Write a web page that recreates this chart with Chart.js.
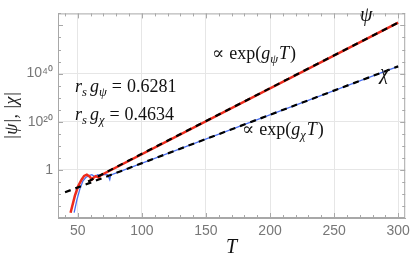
<!DOCTYPE html>
<html>
<head>
<meta charset="utf-8">
<script src="https://cdn.jsdelivr.net/npm/chart.js@4.4.0/dist/chart.umd.min.js"></script>
<style>
  body { margin: 0; background: #fff; }
  #wrap { width: 415px; height: 258px; }
</style>
</head>
<body>
<div id="wrap"><canvas id="chart" width="415" height="258"></canvas></div>
<script>
// values; magnitudes kept as powers of ten
const psiT = [44.3, 47.7, 50.3, 52.9, 54.9, 57, 59.3, 60.9, 62.4, 64, 66.3, 68, 300];
const psiExp = [-17.8, -10.7, -6.7, -4.1, -2.5, -2.0, -2.8, -4.0, -3.2, -2.6, -3.2, -2.2, 61.2];
const chiT = [47.1, 49.2, 51.6, 53.9, 56.2, 58.6, 60.9, 63.2, 65.5, 67.9, 70.2, 73.3, 74.9, 75.7, 77, 300];
const chiExp = [-17.8, -12.6, -7.9, -4.7, -3.2, -2.4, -2.0, -2.8, -2.0, -2.4, -2.0, -2.0, -4.0, -2.0, -1.9, 43.0];
const psiFitT = [58, 300];
const psiFitExp = [-4.8, 61.2];
const chiFitT = [40, 300];
const chiFitExp = [-9.3, 43.0];

const xTicks = [50, 100, 150, 200, 250, 300];
const yTicks = [1, 1e20, 1e40];
const yTickLabels = ['1', '10²⁰', '10⁴⁰'];

const toPoints = (ts, exps) => ts.map((t, i) => ({ x: t, y: Math.pow(10, exps[i]) }));

const SERIF = '"Liberation Serif", "DejaVu Serif", serif';

// math-ish text: runs of italic / subscript pieces
function drawRuns(ctx, x, y, runs, size) {
  runs.forEach(r => {
    const s = r.sub ? size * 0.7 : size;
    ctx.font = (r.it ? 'italic ' : '') + s + 'px ' + (r.fam || SERIF);
    x += r.gap || 0;
    ctx.fillText(r.t, x, r.sub ? y + size * 0.22 : y);
    x += ctx.measureText(r.t).width;
  });
}

const notes = [
  { x: 75, y: 92, size: 18, runs: [{ t: 'r', it: 1 }, { t: 's', it: 1, sub: 1 }, { t: 'g', it: 1, gap: 3 }, { t: 'ψ', it: 1, sub: 1 }, { t: '=', gap: 5 }, { t: '0.6281', gap: 5 }] },
  { x: 75, y: 120, size: 18, runs: [{ t: 'r', it: 1 }, { t: 's', it: 1, sub: 1 }, { t: 'g', it: 1, gap: 3 }, { t: 'χ', it: 1, sub: 1 }, { t: '=', gap: 5 }, { t: '0.4634', gap: 5 }] },
  { x: 212, y: 59, size: 18, runs: [{ t: '∝', fam: '"DejaVu Serif", serif' }, { t: 'exp(', gap: 5 }, { t: 'g', it: 1 }, { t: 'ψ', it: 1, sub: 1 }, { t: 'T', it: 1, gap: 1 }, { t: ')', gap: 1 }] },
  { x: 242, y: 135, size: 18, runs: [{ t: '∝', fam: '"DejaVu Serif", serif' }, { t: 'exp(', gap: 5 }, { t: 'g', it: 1 }, { t: 'χ', it: 1, sub: 1 }, { t: 'T', it: 1, gap: 1 }, { t: ')', gap: 1 }] },
  { x: 360, y: 21, size: 20, runs: [{ t: 'ψ', it: 1 }] },
  { x: 380, y: 79, size: 20, runs: [{ t: 'χ', it: 1 }] }
];

// Mathematica-style frame with inward ticks on all four sides
const framePlugin = {
  id: 'frame',
  afterDatasetsDraw(chart) {
    const { ctx, chartArea: a, scales: { x, y } } = chart;
    ctx.save();
    ctx.strokeStyle = '#a8a8a8';
    ctx.lineWidth = 1;
    ctx.strokeRect(a.left + 0.5, a.top + 0.5, a.right - a.left - 1, a.bottom - a.top - 1);
    ctx.beginPath();
    for (let t = 40; t <= 300; t += 10) {
      const px = Math.round(x.getPixelForValue(t)) + 0.5;
      const len = t % 50 === 0 ? 5 : 3;
      ctx.moveTo(px, a.bottom); ctx.lineTo(px, a.bottom - len);
      ctx.moveTo(px, a.top); ctx.lineTo(px, a.top + len);
    }
    for (let e = -20; e <= 65; e += 5) {
      const py = Math.round(y.getPixelForValue(Math.pow(10, e))) + 0.5;
      const len = e % 20 === 0 ? 5 : 3;
      ctx.moveTo(a.left, py); ctx.lineTo(a.left + len, py);
      ctx.moveTo(a.right, py); ctx.lineTo(a.right - len, py);
    }
    ctx.stroke();
    ctx.fillStyle = '#111';
    ctx.textBaseline = 'alphabetic';
    notes.forEach(n => drawRuns(ctx, n.x, n.y, n.runs, n.size));
    ctx.restore();
  }
};

new Chart(document.getElementById('chart'), {
  type: 'line',
  data: {
    datasets: [
      { data: toPoints(psiT, psiExp), borderColor: '#ee2a1b', borderWidth: 2.5, tension: 0, order: 2 },
      { data: toPoints(chiT, chiExp), borderColor: '#4a6ff0', borderWidth: 1.3, tension: 0, order: 2 },
      { data: toPoints(psiFitT, psiFitExp), borderColor: '#000', borderWidth: 2.2, borderDash: [6, 5], order: 1 },
      { data: toPoints(chiFitT, chiFitExp), borderColor: '#000', borderWidth: 2.2, borderDash: [6, 5], order: 1 }
    ]
  },
  options: {
    responsive: false,
    animation: false,
    events: [],
    layout: { padding: { top: 3, right: 8 } },
    elements: { point: { radius: 0 } },
    plugins: { legend: { display: false }, tooltip: { enabled: false } },
    scales: {
      x: {
        type: 'linear',
        min: 34.5,
        max: 305.5,
        afterBuildTicks: s => { s.ticks = xTicks.map(v => ({ value: v })); },
        afterFit: s => { s.height = 40; },
        grid: { color: '#e6e6e6', drawTicks: false },
        border: { color: '#a8a8a8' },
        ticks: { color: '#777', padding: 5, font: { family: '"Liberation Sans", sans-serif', size: 14 } },
        title: { display: true, text: 'T', color: '#111', padding: 0, font: { family: SERIF, size: 20, style: 'italic', lineHeight: 1 } }
      },
      y: {
        type: 'logarithmic',
        min: 1e-20,
        max: 1e65,
        afterBuildTicks: s => { s.ticks = yTicks.map(v => ({ value: v })); },
        afterFit: s => { s.width = 58; },
        grid: { color: '#e6e6e6', drawTicks: false },
        border: { color: '#a8a8a8' },
        ticks: {
          color: '#777',
          padding: 5,
          font: { family: '"Liberation Sans", sans-serif', size: 14 },
          callback: v => yTickLabels[yTicks.indexOf(v)]
        },
        title: { display: true, text: '|ψ|, |χ|', color: '#222', padding: { top: 1 }, font: { family: SERIF, size: 18, style: 'italic', lineHeight: 1.2 } }
      }
    }
  },
  plugins: [framePlugin]
});
</script>
</body>
</html>
